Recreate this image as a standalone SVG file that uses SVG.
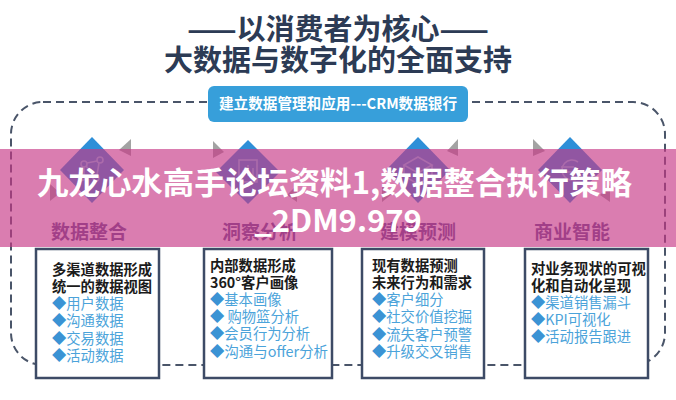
<svg xmlns="http://www.w3.org/2000/svg" width="676" height="400" viewBox="0 0 676 400">
<style>
.cjk{font-family:"Noto Sans CJK SC","Noto Sans",sans-serif}
.title{font-size:29px;font-weight:700;fill:#2c3b55}
.lab{font-size:19px;font-weight:700;fill:#5d4f8c}
.hd{font-size:14.3px;font-weight:700;fill:#1b1b1b}
.it{font-size:14.3px;font-weight:400;fill:#4ba3da}
.bu{fill:#3b93d4}
.box{fill:#fff;stroke:#3d4b66;stroke-width:2.5}
.dia{fill:#2e8fd8}
.tri{fill:#a3a3a3}
.ico{fill:none;stroke:#7ccbef;stroke-width:1.6}
.wm{font-size:31px;font-weight:700;fill:#fff}
</style>
<rect width="676" height="400" fill="#fff"/>
<g id="connectors">
<rect x="11" y="102" width="654" height="263" rx="32" fill="none" stroke="#4a5569" stroke-width="2" stroke-dasharray="8 5"/>
<polygon class="tri" points="131,139 131,156 119,150"/>
<polygon class="tri" points="50,184 50,201 60,193"/>
<polygon class="tri" points="213,141 213,158 224,152"/>
<polygon class="tri" points="297,185 297,202 287,195"/>
<polygon class="tri" points="458,139 458,156 447,151"/>
<polygon class="tri" points="382,185 382,202 392,194"/>
<polygon class="tri" points="533,139 533,156 545,151"/>
<polygon class="tri" points="610,185 610,202 600,195"/>
</g>
<g id="title">
<text class="cjk title" x="338" y="40" text-anchor="middle">——以消费者为核心——</text>
<text class="cjk title" x="338" y="71" text-anchor="middle">大数据与数字化的全面支持</text>
</g>
<g id="banner">
<rect x="208" y="86" width="260" height="36" rx="6" fill="#379fda"/>
<text class="cjk" x="338" y="109" text-anchor="middle" font-size="15" font-weight="700" fill="#fff" textLength="238" lengthAdjust="spacingAndGlyphs">建立数据管理和应用---CRM数据银行</text>
</g>
<g id="icon1">
<polygon class="dia" points="92,137 124,170 92,203 60,170"/>
<g class="ico"><circle cx="84" cy="164" r="3"/><circle cx="100" cy="160" r="3"/><circle cx="96" cy="178" r="3"/><circle cx="82" cy="178" r="2.5"/><path d="M87,163 L97,161 M99,163 L97,175 M86,166 L94,176 M84,175 L84,167"/></g>
<text class="cjk lab" x="89" y="239" text-anchor="middle">数据整合</text>
</g>
<g id="icon2">
<polygon class="dia" points="248,140 280,172 248,204 216,172"/>
<g class="ico"><rect x="239" y="160" width="18" height="22"/><path d="M243,176 V170 M248,176 V165 M253,176 V168"/></g>
<text class="cjk lab" x="260" y="239" text-anchor="middle">洞察分析</text>
</g>
<g id="icon3">
<polygon class="dia" points="418,137 450,170 418,203 386,170"/>
<g class="ico"><polygon points="418,157 432,165 418,173 404,165"/><path d="M404,165 V176 L418,184 L432,176 V165 M418,173 V184"/></g>
<text class="cjk lab" x="418" y="239" text-anchor="middle">建模预测</text>
</g>
<g id="icon4">
<polygon class="dia" points="570,137 602,170 570,203 538,170"/>
<g class="ico"><path d="M578,162 A10,10 0 1 0 578,178"/><path d="M561,167 H574 M561,172 H574"/></g>
<text class="cjk lab" x="572" y="239" text-anchor="middle">商业智能</text>
</g>
<rect id="overlay" x="0" y="149" width="676" height="98" fill="rgb(198,55,134)" fill-opacity="0.65"/>
<g id="watermark">
<text class="cjk wm" x="37" y="194" textLength="595" lengthAdjust="spacingAndGlyphs">九龙心水高手论坛资料1,数据整合执行策略</text>
<text class="cjk wm" x="338" y="232" text-anchor="middle">_2DM9.979</text>
</g>
<g id="box1">
<rect class="box" x="36" y="249" width="123" height="129"/>
<text class="cjk hd" x="52" y="274.5">多渠道数据形成</text>
<text class="cjk hd" x="52" y="292">统一的数据视图</text>
<text class="cjk it" x="52" y="309"><tspan class="bu">◆</tspan>用户数据</text>
<text class="cjk it" x="52" y="326"><tspan class="bu">◆</tspan>沟通数据</text>
<text class="cjk it" x="52" y="343.5"><tspan class="bu">◆</tspan>交易数据</text>
<text class="cjk it" x="52" y="361"><tspan class="bu">◆</tspan>活动数据</text>
</g>
<g id="box2">
<rect class="box" x="204" y="249" width="128" height="129"/>
<text class="cjk hd" x="210" y="271">内部数据形成</text>
<text class="cjk hd" x="210" y="288">360°客户画像</text>
<text class="cjk it" x="210" y="305"><tspan class="bu">◆</tspan>基本画像</text>
<text class="cjk it" x="210" y="322"><tspan class="bu">◆</tspan> 购物篮分析</text>
<text class="cjk it" x="210" y="339"><tspan class="bu">◆</tspan>会员行为分析</text>
<text class="cjk it" x="210" y="357" textLength="118" lengthAdjust="spacingAndGlyphs"><tspan class="bu">◆</tspan>沟通与offer分析</text>
</g>
<g id="box3">
<rect class="box" x="362" y="249" width="122" height="129"/>
<text class="cjk hd" x="372" y="271">现有数据预测</text>
<text class="cjk hd" x="372" y="288">未来行为和需求</text>
<text class="cjk it" x="372" y="305"><tspan class="bu">◆</tspan>客户细分</text>
<text class="cjk it" x="372" y="322"><tspan class="bu">◆</tspan>社交价值挖掘</text>
<text class="cjk it" x="372" y="340"><tspan class="bu">◆</tspan>流失客户预警</text>
<text class="cjk it" x="372" y="357"><tspan class="bu">◆</tspan>升级交叉销售</text>
</g>
<g id="box4">
<rect class="box" x="525" y="249" width="123" height="129"/>
<text class="cjk hd" x="531" y="274" textLength="115" lengthAdjust="spacingAndGlyphs">对业务现状的可视</text>
<text class="cjk hd" x="531" y="291">化和自动化呈现</text>
<text class="cjk it" x="531" y="308"><tspan class="bu">◆</tspan>渠道销售漏斗</text>
<text class="cjk it" x="531" y="325"><tspan class="bu">◆</tspan>KPI可视化</text>
<text class="cjk it" x="531" y="342"><tspan class="bu">◆</tspan>活动报告跟进</text>
</g>
</svg>
